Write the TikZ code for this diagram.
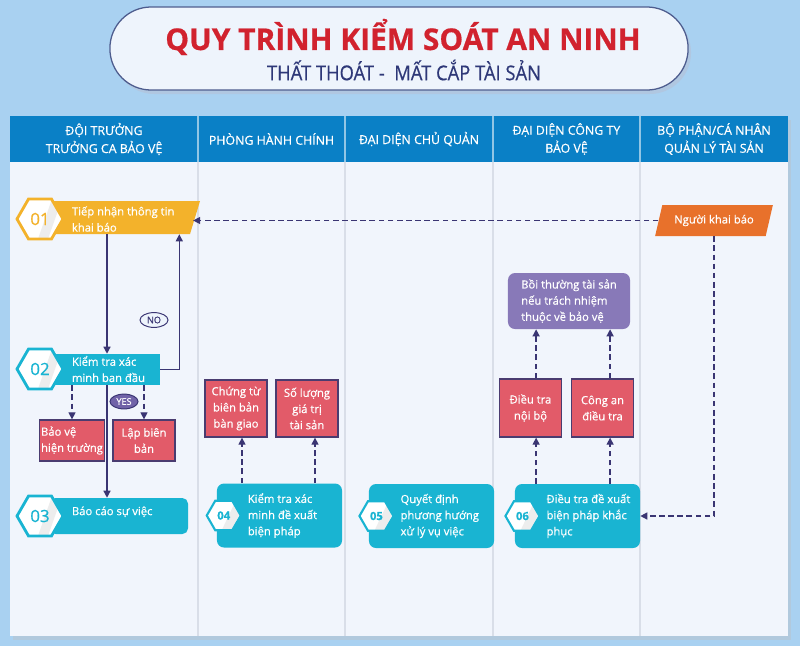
\documentclass[tikz,border=0pt]{standalone}
\usepackage{fontspec}
\setmainfont{Open Sans}[FakeBold=0.6]
\usetikzlibrary{arrows.meta, positioning, calc, shapes.geometric}

\definecolor{skyback}{HTML}{A9D1F1}
\definecolor{pillfill}{HTML}{EEF4FC}
\definecolor{pilledge}{HTML}{4D5C8E}
\definecolor{titlered}{HTML}{D1222E}
\definecolor{subnavy}{HTML}{2E3878}
\definecolor{hdrblue}{HTML}{0A80C6}
\definecolor{bodyfill}{HTML}{F1F5FC}
\definecolor{gridgray}{HTML}{D9DEE8}
\definecolor{ambery}{HTML}{F3B22B}
\definecolor{stepteal}{HTML}{19B4D2}
\definecolor{boxred}{HTML}{E25B69}
\definecolor{boxedge}{HTML}{4A3C70}
\definecolor{lilac}{HTML}{8879B8}
\definecolor{yesviolet}{HTML}{7163A8}
\definecolor{arrownavy}{HTML}{3A3573}
\definecolor{reporter}{HTML}{E8712B}

\begin{document}
\begin{tikzpicture}[
  x=0.025cm, y=-0.025cm,
  font=\fontsize{8}{11.5}\selectfont,
  hexbig/.style    = {regular polygon, regular polygon sides=6, minimum size=1.15cm, inner sep=0pt,
                      line width=2pt, fill=white, font=\fontsize{12}{12}\selectfont,
                      path picture={\fill[black!7] ([xshift=-0.05cm]path picture bounding box.south)
                        -- ([xshift=0.2cm]path picture bounding box.south)
                        -- ([xshift=0.55cm]path picture bounding box.north)
                        -- ([xshift=0.3cm]path picture bounding box.north) -- cycle;}},
  hexsmall/.style  = {hexbig, minimum size=0.85cm, line width=1.5pt, font=\fontsize{8}{8}\selectfont\bfseries},
  steptext/.style  = {text=white, align=left, inner sep=0pt},
  cutbanner/.style = {inner sep=0pt,
                      path picture={\fill[#1] (path picture bounding box.north west)
                        -- (path picture bounding box.north east)
                        -- ([xshift=-0.25cm]path picture bounding box.south east)
                        -- (path picture bounding box.south west) -- cycle;}},
  card/.style      = {fill=stepteal, rounded corners=5pt, minimum width=3.125cm, minimum height=1.6cm},
  redbox/.style    = {draw=boxedge, line width=0.9pt, fill=boxred, text=white, align=center,
                      minimum width=1.55cm, inner sep=1pt},
  tagoval/.style   = {ellipse, draw=arrownavy, line width=0.7pt, inner sep=0.5pt,
                      font=\fontsize{6.5}{6.5}\selectfont, minimum width=0.7cm, minimum height=0.37cm},
  arrow/.style     = {draw=arrownavy, line width=0.9pt, -{Triangle[width=5pt,length=5pt]}},
  dasharrow/.style = {arrow, dash pattern=on 4pt off 2.5pt},
  hdr/.style       = {fill=hdrblue, text=white, align=center, font=\fontsize{8.8}{12.8}\selectfont,
                      minimum height=1.15cm, inner sep=0pt}
]

  \useasboundingbox[fill=skyback] (0,0) rectangle (800,646);

  % title pill
  \fill[pilledge!40, opacity=0.5] (113,11) [rounded corners=1.03cm] rectangle (691,94);
  \node[draw=pilledge, line width=0.9pt, fill=pillfill, rounded corners=1.03cm,
        minimum width=14.45cm, minimum height=2.075cm] (pill) at (399,48.5) {};
  \node[text=titlered, font=\fontsize{21.3}{22}\selectfont\bfseries] (title) at (403,37)
    {QUY TRÌNH KIỂM SOÁT AN NINH};
  \node[text=subnavy, font=\fontsize{14.5}{15}\selectfont] (subtitle) at (404,70)
    {\scalebox{0.9}[1]{THẤT THOÁT - \ MẤT CẮP TÀI SẢN}};

  % table body and header
  \fill[black!25, opacity=0.4] (13,120) rectangle (791,640);
  \fill[bodyfill] (10,162) rectangle (788,636);
  \foreach \cx in {198,345,493,640}
    \draw[gridgray, line width=0.8pt] (\cx,162) -- (\cx,636);

  \node[hdr, minimum width=4.7cm]   (hd1) at (104,139)   {ĐỘI TRƯỞNG\\TRƯỞNG CA BẢO VỆ};
  \node[hdr, minimum width=3.675cm] (hd2) at (271.5,139) {PHÒNG HÀNH CHÍNH};
  \node[hdr, minimum width=3.7cm]   (hd3) at (419,139)   {ĐẠI DIỆN CHỦ QUẢN};
  \node[hdr, minimum width=3.675cm] (hd4) at (566.5,139) {ĐẠI DIỆN CÔNG TY\\BẢO VỆ};
  \node[hdr, minimum width=3.7cm]   (hd5) at (714,139)   {BỘ PHẬN/CÁ NHÂN\\QUẢN LÝ TÀI SẢN};
  \foreach \cx in {198,345,493,640}
    \draw[white!55!hdrblue, line width=0.8pt] (\cx,116) -- (\cx,162);

  % step 01
  \node[cutbanner=ambery, minimum width=3.75cm, minimum height=0.825cm] (b01) at (125,217.5) {};
  \node[hexbig, draw=ambery, text=ambery] (h01) at (40,219) {01};
  \node[steptext, right=5pt of h01] (t01) {Tiếp nhận thông tin\\khai báo};

  % step 02
  \node[fill=stepteal, minimum width=2.65cm, minimum height=0.775cm, inner sep=0pt] (b02) at (107,369.5) {};
  \node[hexbig, draw=stepteal, text=stepteal] (h02) at (40,369) {02};
  \node[steptext, right=5pt of h02] (t02) {Kiểm tra xác\\minh ban đầu};

  % step 03
  \node[fill=stepteal, rounded corners=4pt, minimum width=3.45cm, minimum height=0.9cm, inner sep=0pt] (b03) at (119,516) {};
  \node[hexbig, draw=stepteal, text=stepteal] (h03) at (40,516) {03};
  \node[steptext, right=5pt of h03, yshift=3pt] (t03) {Báo cáo sự việc};

  % steps 04, 05, 06
  \node[card] (c04) at (279.5,515.5) {};
  \node[hexsmall, draw=stepteal, text=stepteal] (h04) at ([xshift=5pt]c04.west) {04};
  \node[steptext, right=4pt of h04] (t04) {Kiểm tra xác\\minh đề xuất\\biện pháp};

  \node[card] (c05) at (431.5,516) {};
  \node[hexsmall, draw=stepteal, text=stepteal] (h05) at ([xshift=5.5pt]c05.west) {05};
  \node[steptext, right=4pt of h05] (t05) {Quyết định\\phương hướng\\xử lý vụ việc};

  \node[card] (c06) at (577.5,516) {};
  \node[hexsmall, draw=stepteal, text=stepteal] (h06) at ([xshift=5.5pt]c06.west) {06};
  \node[steptext, right=4pt of h06] (t06) {Điều tra đề xuất\\biện pháp khắc\\phục};

  % result boxes
  \node[redbox, minimum height=1.025cm, align=left] (bv) at (72,440.5)  {Bảo vệ\\hiện trường};
  \node[redbox, minimum height=1.025cm] (lb) at (144,440.5) {Lập biên\\bản};
  \node[redbox, minimum height=1.425cm] (ct) at (236,408.5) {Chứng từ\\biên bản\\bàn giao};
  \node[redbox, minimum height=1.425cm] (sl) at (307,408.5) {Số lượng\\giá trị\\tài sản};
  \node[redbox, minimum height=1.45cm]  (dt) at (530.5,408) {Điều tra\\nội bộ};
  \node[redbox, minimum height=1.45cm]  (ca) at (602.5,408) {Công an\\điều tra};
  \node[fill=lilac, rounded corners=5pt, text=white, align=left, minimum width=3.05cm,
        minimum height=1.4cm] (bt) at (569,301) {Bồi thường tài sản\\nếu trách nhiệm\\thuộc về bảo vệ};

  % reporter
  \node[trapezium, trapezium left angle=64, trapezium right angle=116, trapezium stretches=true,
        fill=reporter, text=white, minimum width=2.95cm, minimum height=0.775cm, inner sep=0pt] (kb) at (714,220.5)
    {Người khai báo};

  % yes / no tags
  \node[tagoval, fill=pillfill, text=arrownavy] (no) at (154,320) {NO};
  \node[tagoval, fill=yesviolet, text=white] (yes) at (124,401.5) {YES};

  % connectors
  \draw[dasharrow] (kb.west) -- ([xshift=-0.18cm]b01.east |- kb.west);
  \draw[arrow] (b02.north |- b01.south) -- (b02.north);
  \draw[arrow] (b02.east) -| ([xshift=-0.525cm]b01.south east);
  \draw[arrow] (b02.south) -- (b02.south |- b03.north);
  \draw[dasharrow] (bv.north |- b02.south) -- (bv.north);
  \draw[dasharrow] (lb.north |- b02.south) -- (lb.north);

  \draw[dasharrow] ([xshift=0.15cm]ct.south |- c04.north) -- ([xshift=0.15cm]ct.south);
  \draw[dasharrow] ([xshift=0.2cm]sl.south |- c04.north) -- ([xshift=0.2cm]sl.south);

  \draw[dasharrow] ([xshift=0.14cm]dt.south |- c06.north) -- ([xshift=0.14cm]dt.south);
  \draw[dasharrow] ([xshift=0.19cm]ca.south |- c06.north) -- ([xshift=0.19cm]ca.south);
  \draw[dasharrow] ([xshift=0.14cm]dt.north) -- ([xshift=0.14cm]dt.north |- bt.south);
  \draw[dasharrow] ([xshift=0.19cm]ca.north) -- ([xshift=0.19cm]ca.north |- bt.south);

  \draw[dasharrow] (kb.south) |- (c06.east);

\end{tikzpicture}
\end{document}
